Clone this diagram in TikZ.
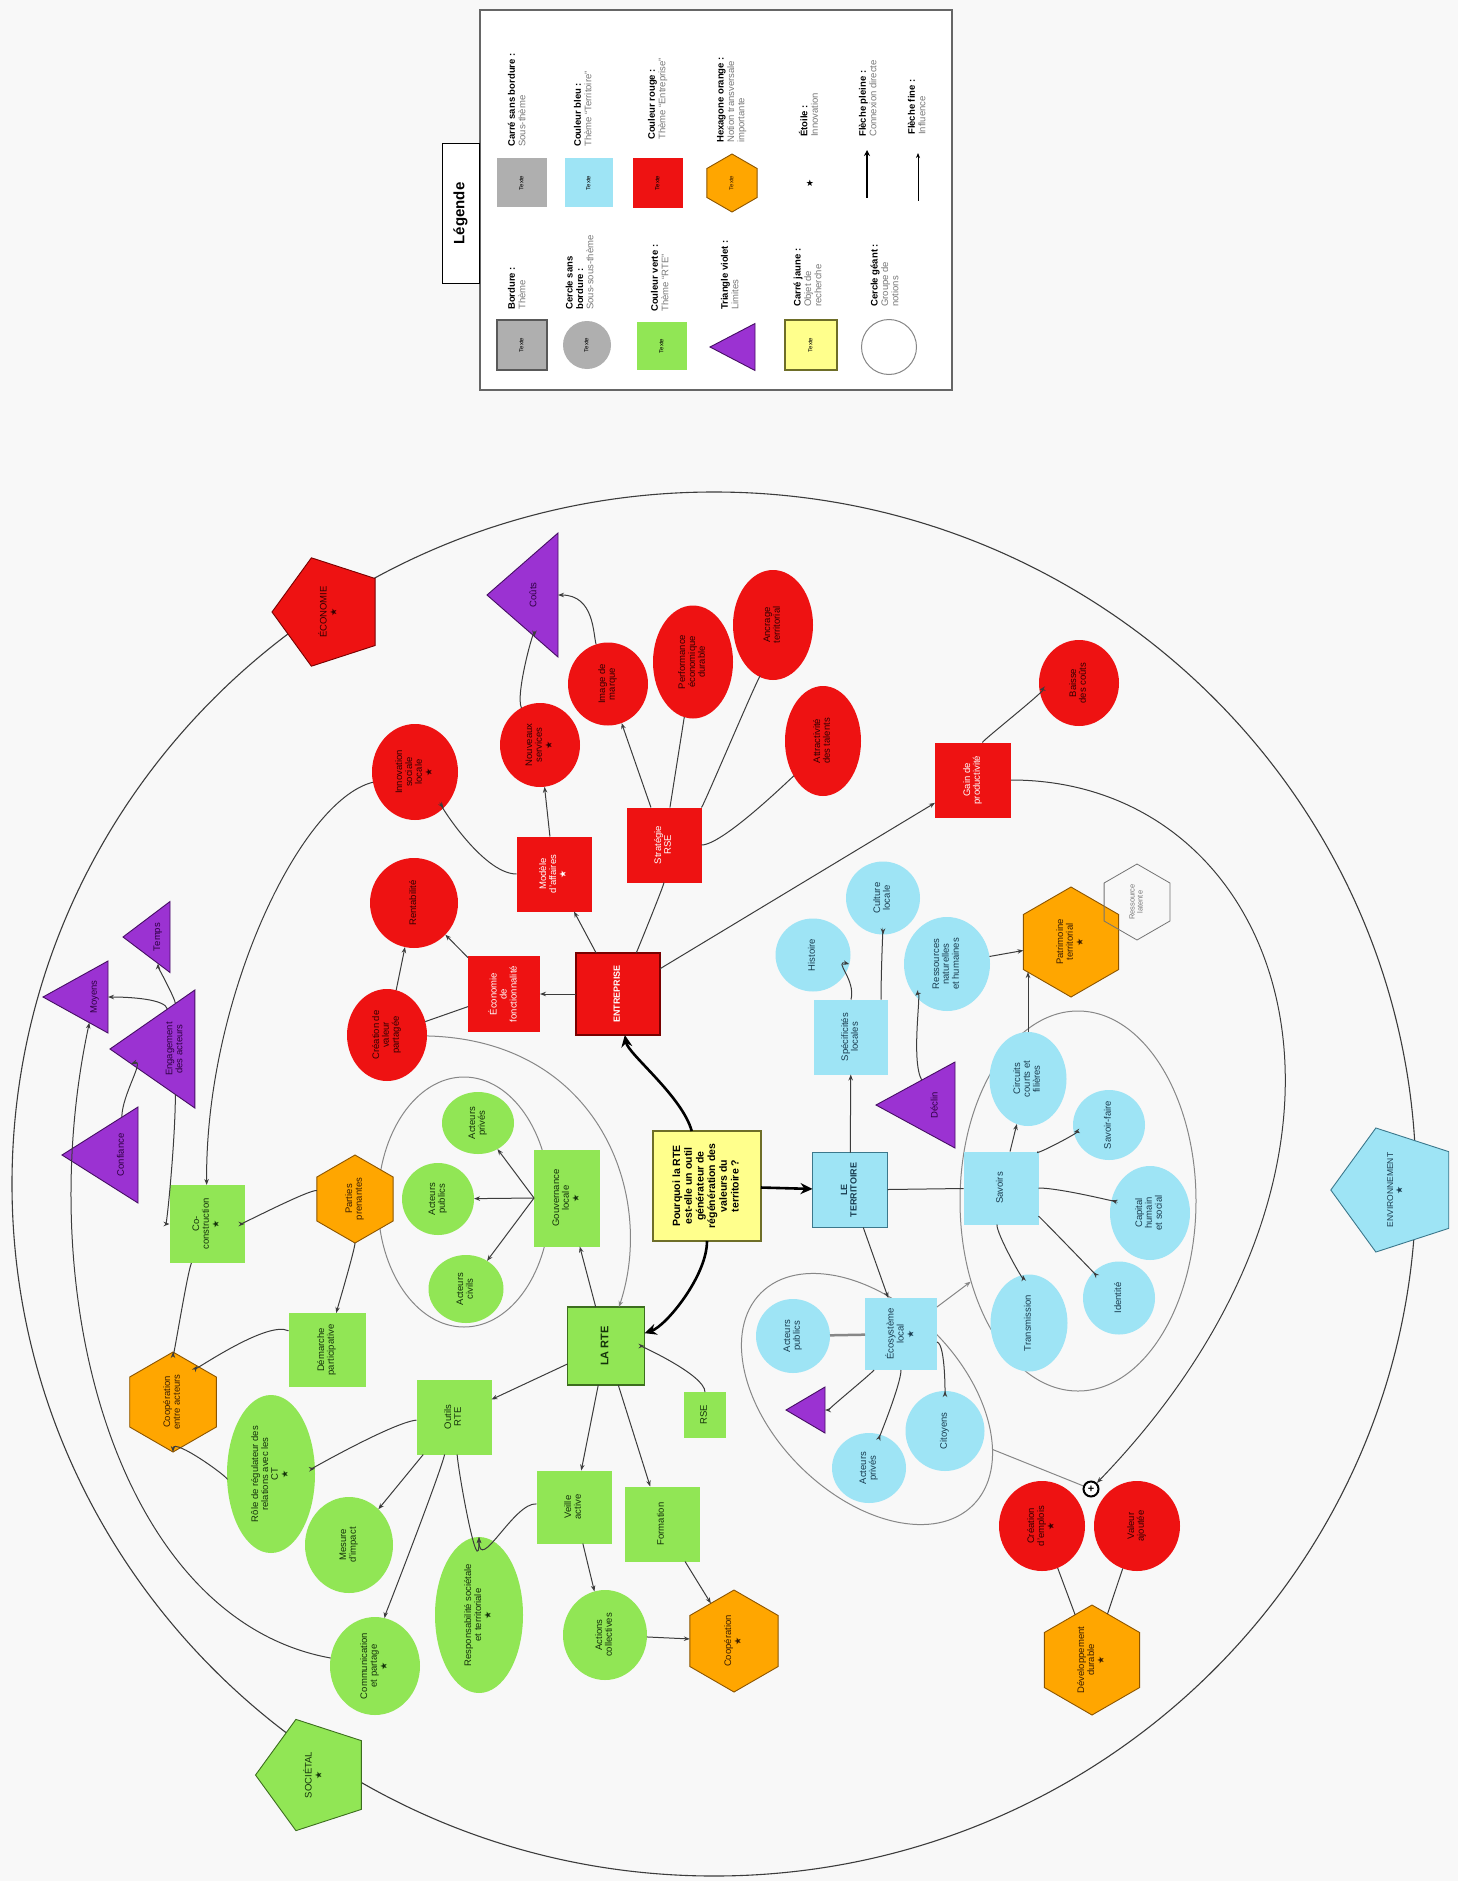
\documentclass[tikz,border=0pt]{standalone}
\usepackage{fontspec}
\setmainfont{Liberation Sans}
\newfontfamily\symfont{DejaVu Sans}
\usepackage{graphicx}
\usetikzlibrary{shapes.geometric,arrows.meta}
\definecolor{cbg}{RGB}{248,248,248}
\definecolor{cred}{RGB}{238,18,18}
\definecolor{bred}{RGB}{120,0,0}
\definecolor{cblue}{RGB}{158,228,245}
\definecolor{bblue}{RGB}{60,120,140}
\definecolor{cgreen}{RGB}{145,230,85}
\definecolor{bgreen}{RGB}{60,110,30}
\definecolor{corange}{RGB}{255,166,0}
\definecolor{borange}{RGB}{140,85,0}
\definecolor{cpurple}{RGB}{155,50,210}
\definecolor{bpurple}{RGB}{70,15,100}
\definecolor{cyellow}{RGB}{255,255,140}
\definecolor{byellow}{RGB}{110,110,40}
\definecolor{cgray}{RGB}{175,175,175}
\definecolor{cgrp}{RGB}{135,135,135}
\definecolor{cedge}{RGB}{60,60,60}
\definecolor{txtred}{RGB}{50,0,0}
\definecolor{txtblue}{RGB}{25,60,80}
\definecolor{txtgreen}{RGB}{20,50,10}
\definecolor{txtpur}{RGB}{45,0,65}
\definecolor{txtor}{RGB}{60,30,0}
\definecolor{ltgray}{RGB}{120,120,120}
\renewcommand{\arraystretch}{0.9}
\newcommand{\rt}[1]{\rotatebox{90}{\begin{tabular}{@{}c@{}}#1\end{tabular}}}
\newcommand{\lgx}[1]{\rotatebox{90}{\begin{tabular}{@{}l@{}}#1\end{tabular}}}
\newcommand{\strk}{{\symfont\fontsize{9}{9}\selectfont ★}}
\tikzset{
  sz/.style 2 args={minimum width=#1pt, minimum height=#2pt},
  nd/.style={inner sep=0pt, outer sep=0pt, align=center, font=\fontsize{9.5}{11}\selectfont},
  rsq/.style={nd, rectangle, fill=cred, text=white},
  rci/.style={nd, ellipse, fill=cred, text=txtred},
  bsq/.style={nd, rectangle, fill=cblue, text=txtblue},
  bci/.style={nd, ellipse, fill=cblue, text=txtblue},
  gsq/.style={nd, rectangle, fill=cgreen, text=txtgreen},
  gci/.style={nd, ellipse, fill=cgreen, text=txtgreen},
  hexa/.style={nd, regular polygon, regular polygon sides=6, shape border rotate=90, fill=corange, draw=borange, line width=0.9pt, text=txtor},
  penta/.style={nd, regular polygon, regular polygon sides=5, shape border rotate=90, line width=0.9pt},
  tri/.style={nd, isosceles triangle, isosceles triangle stretches, shape border rotate=180, fill=cpurple, draw=bpurple, line width=0.9pt, text=txtpur, anchor=apex},
  grp/.style={ellipse, draw=cgrp, line width=1pt, inner sep=0pt},
  ln/.style={draw=cedge, line width=1pt},
  ar/.style={ln, -{Stealth[length=6pt,width=4.5pt]}},
  gl/.style={draw=cgrp, line width=1pt},
  garr/.style={gl, -{Stealth[length=6pt,width=4.5pt]}},
  thk/.style={draw=black, line width=2.6pt, -{Stealth[length=12pt,width=11pt]}},
  lgt/.style={inner sep=0pt, font=\fontsize{9.5}{11.5}\selectfont, anchor=south},
  lgi/.style={nd, font=\fontsize{6}{7}\selectfont},
}
\begin{document}
\begin{tikzpicture}[x=1pt,y=-1pt]
\fill[cbg] (0,0) rectangle (1458,1881);
\useasboundingbox (0,0) rectangle (1458,1881);

% ---------- legend ----------
\node[draw=black!60, fill=white, line width=1.3pt, minimum width=472pt, minimum height=380pt, inner sep=0pt] (LEG) at (716,200) {};
\node[draw=black, fill=white, line width=1pt, minimum width=37pt, minimum height=139pt, inner sep=0pt] (LGT) at (460.5,213.5) {\rotatebox{90}{\fontsize{15}{15}\selectfont\bfseries Légende}};
\node[lgi, rectangle, fill=cgray, draw=black!65, line width=1.3pt, sz={50}{50}] (LA1) at (522,345) {\rt{Texte}};
\node[lgi, circle, fill=cgray, minimum size=48pt] (LA2) at (587,345) {\rt{Texte}};
\node[lgi, rectangle, fill=cgreen, sz={50}{48}] (LA3) at (662,346) {\rt{Texte}};
\node[tri, sz={47}{45}] (LA4) at (710,347) {};
\node[lgi, rectangle, fill=cyellow, draw=byellow, line width=1.2pt, sz={52}{50}] (LA5) at (811,345) {\rt{Texte}};
\node[lgi, circle, draw=cgrp, line width=1pt, minimum size=55pt] (LA6) at (889,347) {};
\node[lgi, rectangle, fill=cgray, sz={50}{49}] (LB1) at (522,183) {\rt{Texte}};
\node[lgi, rectangle, fill=cblue, sz={48}{49}] (LB2) at (589,183) {\rt{Texte}};
\node[lgi, rectangle, fill=cred, sz={50}{50}] (LB3) at (658,183) {\rt{Texte}};
\node[hexa, lgi, minimum size=58pt] (LB4) at (732,183) {\rt{Texte}};
\node[inner sep=0pt] (LB5) at (810,183) {\strk};
\coordinate (LB6a) at (867,198); \coordinate (LB6b) at (867,150);
\coordinate (LB7a) at (918,201); \coordinate (LB7b) at (918,153);
\draw[black, line width=2pt, -{Stealth[length=6pt,width=6pt]}] (LB6a) -- (LB6b);
\draw[black, line width=0.8pt, -{Stealth[length=5pt,width=4pt]}] (LB7a) -- (LB7b);
\node[lgt] (TA1) at (518,310) {\lgx{\textbf{Bordure :}\\\textcolor{ltgray}{Thème}}};
\node[lgt] (TA2) at (581,310) {\lgx{\textbf{Cercle sans}\\\textbf{bordure :}\\\textcolor{ltgray}{Sous-sous-thème}}};
\node[lgt] (TA3) at (661,312) {\lgx{\textbf{Couleur verte :}\\\textcolor{ltgray}{Thème ``RTE''}}};
\node[lgt] (TA4) at (731,310) {\lgx{\textbf{Triangle violet :}\\\textcolor{ltgray}{Limites}}};
\node[lgt] (TA5) at (809,307) {\lgx{\textbf{Carré jaune :}\\\textcolor{ltgray}{Objet de}\\\textcolor{ltgray}{recherche}}};
\node[lgt] (TA6) at (886,307) {\lgx{\textbf{Cercle géant :}\\\textcolor{ltgray}{Groupe de}\\\textcolor{ltgray}{notions}}};
\node[lgt] (TB1) at (518,147) {\lgx{\textbf{Carré sans bordure :}\\\textcolor{ltgray}{Sous-thème}}};
\node[lgt] (TB2) at (584,147) {\lgx{\textbf{Couleur bleu :}\\\textcolor{ltgray}{Thème ``Territoire''}}};
\node[lgt] (TB3) at (658,140) {\lgx{\textbf{Couleur rouge :}\\\textcolor{ltgray}{Thème ``Entreprise''}}};
\node[lgt] (TB4) at (732,143) {\lgx{\textbf{Hexagone orange :}\\\textcolor{ltgray}{Notion transversale}\\\textcolor{ltgray}{importante}}};
\node[lgt] (TB5) at (810,137) {\lgx{\textbf{Étoile :}\\\textcolor{ltgray}{Innovation}}};
\node[lgt] (TB6) at (869,137) {\lgx{\textbf{Flèche pleine :}\\\textcolor{ltgray}{Connexion directe}}};
\node[lgt] (TB7) at (918,135) {\lgx{\textbf{Flèche fine :}\\\textcolor{ltgray}{Influence}}};

% ---------- outer ellipse ----------
\draw[draw=cedge, line width=1.1pt] (714,1184) ellipse [x radius=702, y radius=692];

% ---------- group ellipses ----------
\node[grp, sz={236}{380}] (G31) at (1078,1201) {};
\node[grp, sz={300}{190}, rotate=-45] (G37) at (867,1399) {};
\node[grp, sz={172}{250}] (G45) at (464,1202) {};

% ---------- central ----------
\node[nd, rectangle, fill=cyellow, draw=byellow, line width=1.2pt, sz={108}{110}, font=\fontsize{10.5}{13}\selectfont\bfseries] (Y) at (707,1186) {\rt{Pourquoi la RTE\\est-elle un outil\\générateur de\\régénération des\\valeurs du\\territoire ?}};

% ---------- red ----------
\node[rsq, draw=bred, line width=1.2pt, sz={84}{82}, font=\fontsize{9}{10.5}\selectfont\bfseries] (R1) at (618,994) {\rt{ENTREPRISE}};
\node[rsq, sz={72}{76}] (R2) at (504,994) {\rt{Économie\\de\\fonctionnalité}};
\node[rci, sz={88}{90}] (R3) at (414,903) {\rt{Rentabilité}};
\node[rci, sz={80}{92}] (R4) at (387,1035) {\rt{Création de\\valeur\\partagée}};
\node[rci, sz={86}{96}] (R5) at (415,772) {\rt{Innovation\\sociale\\locale\\\strk}};
\node[rsq, sz={75}{75}] (R6) at (554,874) {\rt{Modèle\\d'affaires\\\strk}};
\node[rsq, sz={75}{75}] (R7) at (664,845) {\rt{Stratégie\\RSE}};
\node[rci, sz={80}{84}] (R8) at (540,745) {\rt{Nouveaux\\services\\\strk}};
\node[rci, sz={80}{83}] (R9) at (608,684) {\rt{Image de\\marque}};
\node[rci, sz={80}{113}] (R10) at (693,662) {\rt{Performance\\économique\\durable}};
\node[rci, sz={80}{110}] (R11) at (773,625) {\rt{Ancrage\\territorial}};
\node[rci, sz={76}{110}] (R12) at (823,741) {\rt{Attractivité\\des talents}};
\node[tri, sz={124}{71}] (T13) at (487,595) {\rt{Coûts}};
\node[penta, fill=cred, draw=bred, minimum size=114pt, text=txtred] (P14) at (329,612) {\rt{ÉCONOMIE\\\strk}};
\node[rsq, sz={76}{75}] (R15) at (973,780) {\rt{Gain de\\productivité}};
\node[rci, sz={80}{86}] (R16) at (1079,683) {\rt{Baisse\\des coûts}};

% ---------- blue ----------
\node[bsq, draw=bblue, line width=1.2pt, sz={75}{75}, font=\fontsize{9}{10.5}\selectfont\bfseries] (B17) at (850,1190) {\rt{LE\\TERRITOIRE}};
\node[bsq, sz={74}{75}] (B18) at (851,1037) {\rt{Spécificités\\locales}};
\node[bci, sz={75}{73}] (B19) at (813,955) {\rt{Histoire}};
\node[bci, sz={74}{73}] (B20) at (883,898) {\rt{Culture\\locale}};
\node[bci, sz={86}{94}] (B21) at (947,964) {\rt{Ressources\\naturelles\\et humaines}};
\node[hexa, minimum size=110pt] (H22) at (1071,942) {\rt{Patrimoine\\territorial\\\strk}};
\node[nd, regular polygon, regular polygon sides=6, shape border rotate=90, draw=black!55, line width=0.8pt, minimum size=76pt, text=ltgray, font=\fontsize{7.5}{9}\selectfont] (H23) at (1137,902) {\rt{Ressource\\latente}};
\node[tri, sz={86}{79}] (T24) at (876,1105) {\rt{Déclin}};
\node[bsq, sz={75}{73}] (B25) at (1001,1188) {\rt{Savoirs}};
\node[bci, sz={77}{94}] (B26) at (1028,1079) {\rt{Circuits\\courts et\\filières}};
\node[bci, sz={72}{70}] (B27) at (1109,1125) {\rt{Savoir-faire}};
\node[bci, sz={80}{94}] (B28) at (1150,1213) {\rt{Capital\\humain\\et social}};
\node[bci, sz={72}{73}] (B29) at (1119,1298) {\rt{Identité}};
\node[bci, sz={77}{97}] (B30) at (1029,1323) {\rt{Transmission}};
\node[bsq, sz={72}{72}] (B32) at (901,1334) {\rt{Écosystème\\local\\\strk}};
\node[bci, sz={74}{74}] (B33) at (793,1336) {\rt{Acteurs\\publics}};
\node[tri, sz={46}{39}] (T34) at (786,1410) {};
\node[bci, sz={74}{70}] (B35) at (869,1468) {\rt{Acteurs\\privés}};
\node[bci, sz={79}{80}] (B36) at (945,1431) {\rt{Citoyens}};
\node[penta, fill=cblue, draw=bblue, minimum size=116pt, text=txtblue, font=\fontsize{8.5}{10}\selectfont] (P41) at (1396,1190) {\rt{ENVIRONNEMENT\\\strk}};

% ---------- bottom red ----------
\node[rci, sz={86}{90}] (R38) at (1042,1526) {\rt{Création\\d'emplois\\\strk}};
\node[rci, sz={86}{90}] (R38b) at (1137,1526) {\rt{Valeur\\ajoutée}};
\node[circle, draw=black, line width=2pt, fill=white, minimum size=15pt, inner sep=0pt, font=\fontsize{11}{11}\selectfont\bfseries] (X39) at (1091,1489) {+};
\node[hexa, minimum size=110pt] (H40) at (1092,1660) {\rt{Développement\\durable\\\strk}};

% ---------- green ----------
\node[gsq, draw=bgreen, line width=1.2pt, sz={77}{78}, font=\fontsize{11}{13}\selectfont\bfseries] (G42) at (606,1346) {\rt{LA RTE}};
\node[gsq, sz={66}{97}] (G43) at (567,1198) {\rt{Gouvernance\\locale\\\strk}};
\node[gci, sz={72}{62}] (G44a) at (478,1123) {\rt{Acteurs\\privés}};
\node[gci, sz={72}{72}] (G44b) at (438,1199) {\rt{Acteurs\\publics}};
\node[gci, sz={75}{68}] (G44c) at (466,1289) {\rt{Acteurs\\civils}};
\node[hexa, minimum size=88pt] (H46) at (355,1199) {\rt{Parties\\prenantes}};
\node[gsq, sz={75}{78}] (G47) at (207,1224) {\rt{Co-\\construction\\\strk}};
\node[gsq, sz={77}{74}] (G48) at (327,1350) {\rt{Démarche\\participative}};
\node[hexa, minimum size=100pt] (H49) at (173,1402) {\rt{Coopération\\entre acteurs}};
\node[gci, sz={88}{158}] (G50) at (271,1474) {\rt{Rôle de régulateur des\\relations avec les\\CT\\\strk}};
\node[gci, sz={88}{96}] (G51) at (349,1545) {\rt{Mesure\\d'impact}};
\node[gsq, sz={75}{75}] (G52) at (454,1417) {\rt{Outils\\RTE}};
\node[gci, sz={90}{98}] (G53) at (375,1666) {\rt{Communication\\et partage\\\strk}};
\node[gci, sz={88}{156}] (G54) at (479,1615) {\rt{Responsabilité sociétale\\et territoriale\\\strk}};
\node[gsq, sz={75}{73}] (G55) at (574,1507) {\rt{Veille\\active}};
\node[gsq, sz={75}{75}] (G56) at (662,1524) {\rt{Formation}};
\node[gci, sz={84}{90}] (G57) at (605,1635) {\rt{Actions\\collectives}};
\node[hexa, minimum size=102pt] (H58) at (734,1641) {\rt{Coopération\\\strk}};
\node[gsq, sz={42}{46}] (G59) at (705,1415) {\rt{RSE}};
\node[penta, fill=cgreen, draw=bgreen, minimum size=117pt, text=txtgreen] (P60) at (314,1775) {\rt{SOCIÉTAL\\\strk}};

% ---------- purple triangles ----------
\node[tri, sz={71}{47}] (T61) at (123,937) {\rt{Temps}};
\node[tri, sz={72}{65}] (T62) at (43,997) {\rt{Moyens}};
\node[tri, sz={118}{82}] (T63) at (110,1049) {\rt{Engagement\\des acteurs}};
\node[tri, sz={96}{76}] (T64) at (62,1155) {\rt{Confiance}};

% ---------- thick connectors ----------
\draw[thk] (Y) .. controls +(-25,-90) and +(10,60) .. (R1);
\draw[thk] (Y) .. controls +(0,90) and +(60,-20) .. (G42);
\draw[thk] (Y) -- (B17);

% ---------- red connectors ----------
\draw[ar] (R1) -- (R2);
\draw[ar] (R2) -- (R3);
\draw[ln] (R2) -- (R4);
\draw[ar] (R4) -- (R3);
\draw[ar] (R1) -- (R6);
\draw[ar] (R6.west) .. controls +(-35,0) and +(20,25) .. (R5);
\draw[ar] (R6) -- (R8);
\draw[ar] (R8) .. controls +(-25,-50) and +(0,30) .. (T13);
\draw[ar] (R9) .. controls +(-15,-50) and +(60,0) .. (T13);
\draw[ln] (R1) .. controls +(20,-45) and +(0,40) .. (R7);
\draw[ar] (R7) -- (R9);
\draw[ln] (R7) -- (R10);
\draw[ln] (R7) .. controls +(40,-40) and +(-10,40) .. (R11);
\draw[ln] (R7) .. controls +(60,0) and +(-25,30) .. (R12);
\draw[ar] (R1) -- (R15);
\draw[ar] (R15) .. controls +(10,-40) and +(-30,5) .. (R16);
\draw[ar] (R15.east) .. controls +(278,0) and +(325,-337) .. (X39);
\draw[ln] (R38) -- (H40);
\draw[ln] (R38b) -- (H40);
\draw[garr] (R4) .. controls +(213,5) and +(50,-150) .. (G42);

% ---------- blue connectors ----------
\draw[ar] (B17) -- (B18);
\draw[ar] (B18.north) .. controls +(5,-20) and +(20,5) .. (B19);
\draw[ar] ([xshift=30pt]B18.north) .. controls +(0,-25) and +(0,25) .. (B20);
\draw[ar] (T24) .. controls +(-25,-45) and +(-25,25) .. (B21);
\draw[ar] (B21) -- (H22);
\draw[ar] (B26.north) -- ++(0,-60);
\draw[ln] (B17) -- (B25);
\draw[ar] (B25) -- (B26);
\draw[ar] (B25) .. controls +(30,-30) and +(-25,5) .. (B27);
\draw[ar] (B25) .. controls +(60,0) and +(-30,-10) .. (B28);
\draw[ar] (B25) .. controls +(40,30) and +(-20,-20) .. (B29);
\draw[ar] (B25) .. controls +(-5,45) and +(-5,-40) .. (B30);
\draw[ar] (B17) -- (B32);
\draw[gl, line width=2.5pt] (B32) -- (B33);
\draw[ar] (B32) .. controls +(-30,40) and +(15,0) .. (T34);
\draw[ar] (B32) .. controls +(0,50) and +(10,-30) .. (B35);
\draw[ar] (B32) .. controls +(45,10) and +(0,-30) .. (B36);
\draw[garr] (B32) -- (G31);
\draw[gl] (G37) -- (X39);

% ---------- green connectors ----------
\draw[ar] (G42) -- (G43);
\draw[ar] (G43.west) -- (G44a);
\draw[ar] (G43.west) -- (G44b);
\draw[ar] (G43.west) -- (G44c);
\draw[ar] (H46) .. controls +(-45,-10) and +(35,0) .. (G47);
\draw[ar] (H46) .. controls +(0,50) and +(10,-40) .. (G48);
\draw[ar] (G47) .. controls +(-20,50) and +(0,-40) .. (H49);
\draw[ar] (G48) .. controls +(-60,-30) and +(20,-30) .. (H49);
\draw[ar] (G50) .. controls +(-40,5) and +(0,35) .. (H49);
\draw[ar] (G52) .. controls +(-60,5) and +(40,-5) .. (G50);
\draw[ar] (G52) -- (G51);
\draw[ar] (G52) .. controls +(-15,60) and +(10,-50) .. (G53);
\draw[ar] (G52) .. controls +(5,60) and +(0,-30) .. (G54);
\draw[ar] (G55) .. controls +(-60,-5) and +(0,-40) .. (G54);
\draw[ar] (G42) -- (G52);
\draw[ar] (G42) -- (G55);
\draw[ar] (G42) -- (G56);
\draw[ar] (G55) -- (G57);
\draw[ar] (G56) -- (H58);
\draw[ar] (G57) -- (H58);
\draw[ar] (G59) .. controls +(0,-40) and +(35,0) .. (G42);
\draw[ar] (G53) .. controls +(-255,-46) and +(-65,303) .. (T62);
\draw[ar] (T63) .. controls +(0,90) and +(-40,0) .. (G47);
\draw[ar] (R5) .. controls +(-115,28) and +(-2,-224) .. (G47);
\draw[ar] (T63) .. controls +(0,-50) and +(0,30) .. (T61);
\draw[ar] (T63) .. controls +(-10,-50) and +(35,0) .. (T62);
\draw[ar] (T64) .. controls +(0,-60) and +(-30,10) .. (T63);
\end{tikzpicture}
\end{document}
